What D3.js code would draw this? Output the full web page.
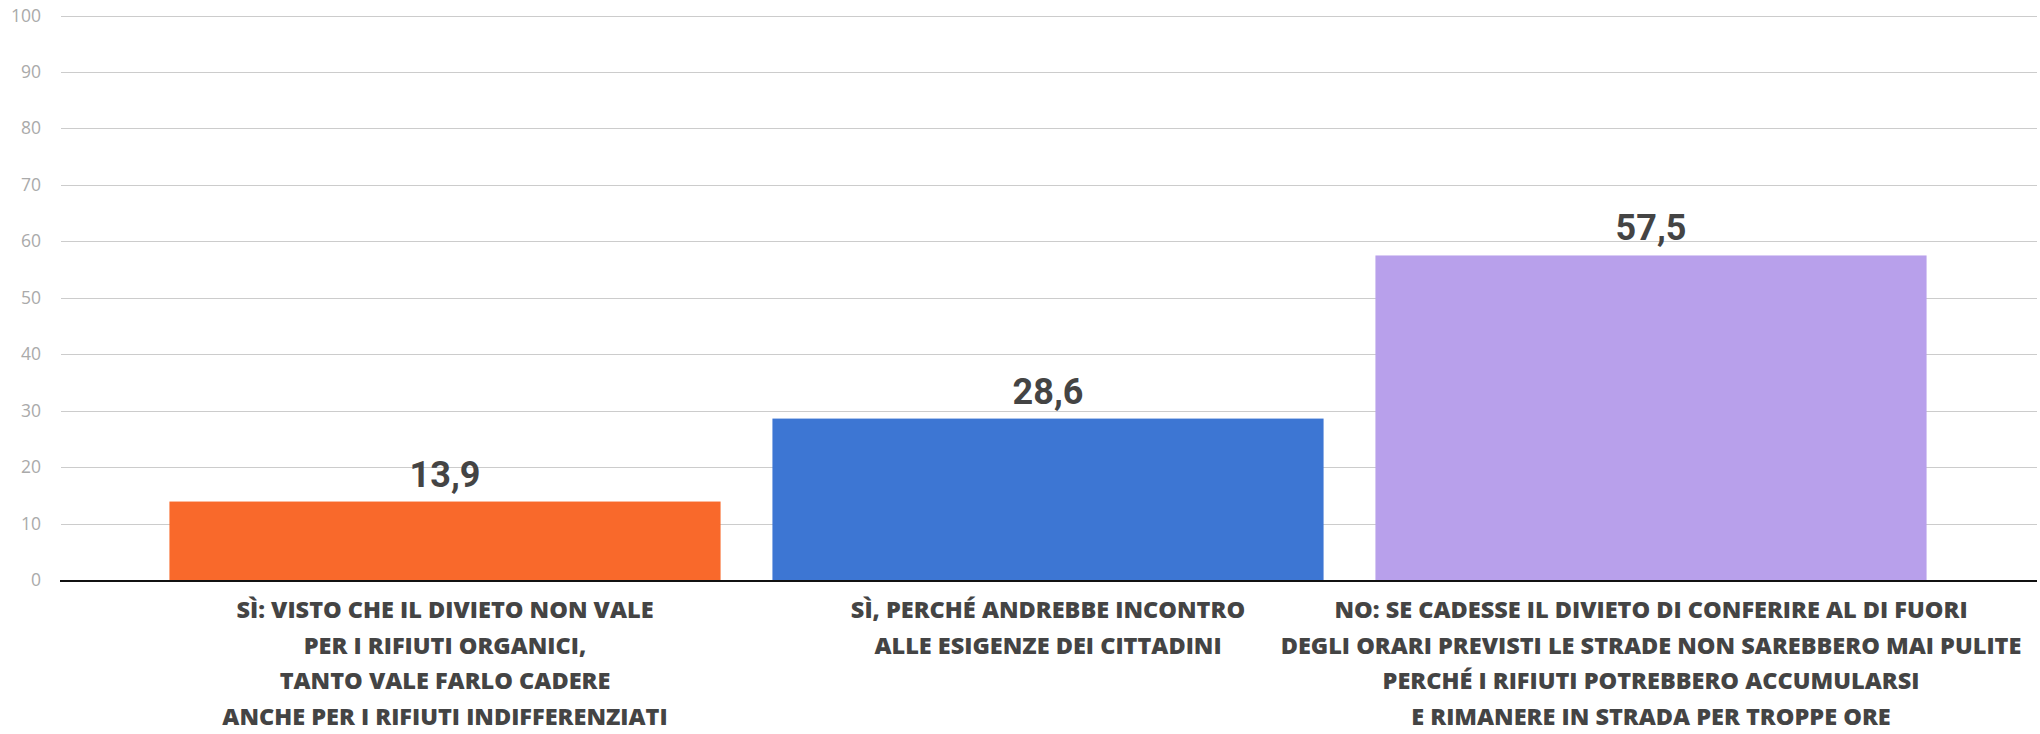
<!DOCTYPE html>
<html>
<head>
<meta charset="utf-8">
<script src="https://cdn.jsdelivr.net/npm/d3@7"></script>
<style>
  html, body { margin: 0; padding: 0; background: #fff; }
</style>
</head>
<body>
<div id="chart"></div>
<script>
// Data
const categories = [
    ["SÌ: VISTO CHE IL DIVIETO NON VALE", "PER I RIFIUTI ORGANICI,", "TANTO VALE FARLO CADERE", "ANCHE PER I RIFIUTI INDIFFERENZIATI"],
    ["SÌ, PERCHÉ ANDREBBE INCONTRO", "ALLE ESIGENZE DEI CITTADINI"],
    ["NO: SE CADESSE IL DIVIETO DI CONFERIRE AL DI FUORI", "DEGLI ORARI PREVISTI LE STRADE NON SAREBBERO MAI PULITE", "PERCHÉ I RIFIUTI POTREBBERO ACCUMULARSI", "E RIMANERE IN STRADA PER TROPPE ORE"]
];
const values = [13.9, 28.6, 57.5];
const barColors = ["#f9692b", "#3d76d3", "#b8a0eb"];
const yTicks = [0, 10, 20, 30, 40, 50, 60, 70, 80, 90, 100];

// Dimensions
const width = 2040;
const height = 734;
const plotLeft = 61;
const plotRight = 2037;
const plotTop = 15.6;
const plotBottom = 580;

const svg = d3.select("#chart")
    .append("svg")
    .attr("width", width)
    .attr("height", height);

// Scales
const y = d3.scaleLinear()
    .domain([0, 100])
    .range([plotBottom, plotTop]);

const x = d3.scaleBand()
    .domain(d3.range(values.length))
    .range([143.5, 1952.5])
    .paddingInner(0.086)
    .paddingOuter(0.043);

// Gridlines
svg.append("g")
    .selectAll("line")
    .data(yTicks.filter(d => d > 0))
    .join("line")
    .attr("x1", plotLeft)
    .attr("x2", plotRight)
    .attr("y1", d => Math.round(y(d)) + 0.5)
    .attr("y2", d => Math.round(y(d)) + 0.5)
    .attr("stroke", "#cccccc")
    .attr("stroke-width", 1);

// Y axis labels
svg.append("g")
    .selectAll("text")
    .data(yTicks)
    .join("text")
    .attr("x", 41)
    .attr("y", d => y(d) + 6)
    .attr("text-anchor", "end")
    .attr("fill", "#aaaaaa")
    .style("font-family", "'Open Sans', sans-serif")
    .style("font-size", "17.5px")
    .text(d => d);

// Bars
svg.append("g")
    .selectAll("rect")
    .data(values)
    .join("rect")
    .attr("x", (d, i) => x(i))
    .attr("y", d => y(d))
    .attr("width", x.bandwidth())
    .attr("height", d => plotBottom - y(d))
    .attr("fill", (d, i) => barColors[i]);

// Baseline
svg.append("line")
    .attr("x1", plotLeft - 1)
    .attr("x2", plotRight)
    .attr("y1", plotBottom + 1)
    .attr("y2", plotBottom + 1)
    .attr("stroke", "#111")
    .attr("stroke-width", 2);

// Value labels
svg.append("g")
    .selectAll("text")
    .data(values)
    .join("text")
    .attr("x", (d, i) => x(i) + x.bandwidth() / 2)
    .attr("y", d => y(d) - 15)
    .attr("text-anchor", "middle")
    .attr("fill", "#444444")
    .style("font-family", "Roboto, sans-serif")
    .style("font-weight", "700")
    .style("font-size", "36px")
    .text(d => d3.format(".1f")(d).replace(".", ","));

// Category labels
const catGroups = svg.append("g")
    .selectAll("text")
    .data(categories)
    .join("text")
    .attr("text-anchor", "middle")
    .attr("fill", "#444444")
    .style("font-family", "'Open Sans', sans-serif")
    .style("font-weight", "800")
    .style("font-size", "23.5px");

catGroups.selectAll("tspan")
    .data((d, i) => d.map(line => ({ line, i })))
    .join("tspan")
    .attr("x", d => x(d.i) + x.bandwidth() / 2)
    .attr("y", (d, j) => 618 + j * 35.6)
    .text(d => d.line);
</script>
</body>
</html>
